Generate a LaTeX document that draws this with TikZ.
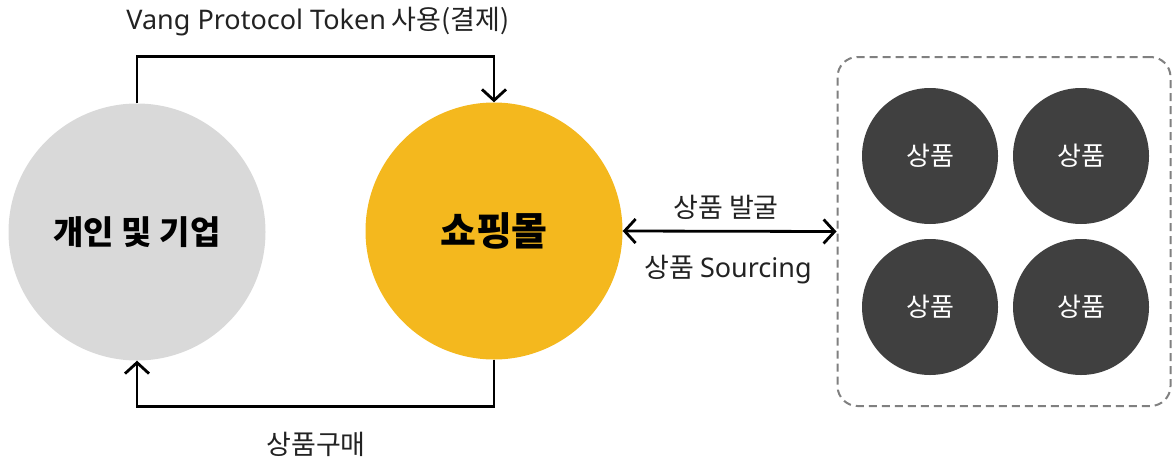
\documentclass[tikz,border=0pt]{standalone}
\usepackage{fontspec}
\setmainfont{Noto Sans CJK KR}
\newfontfamily\lat{Noto Sans}
\usetikzlibrary{arrows.meta,positioning,calc}
\definecolor{cgray}{HTML}{D9D9D9}
\definecolor{cyellow}{HTML}{F4B81E}
\definecolor{cdark}{HTML}{404040}
\definecolor{cbox}{HTML}{808080}
\definecolor{ctext}{HTML}{222222}
\tikzset{barb/.tip={Straight Barb[length=11pt,width=24pt,line width=2.8pt]}}
\begin{document}
\begin{tikzpicture}[x=1pt,y=-1pt,
  bigcircle/.style={circle,minimum size=257pt,inner sep=0pt,draw=none},
  itemcircle/.style={circle,minimum size=136pt,inner sep=0pt,fill=cdark,text=white,font=\fontsize{26}{28}\selectfont},
  conn/.style={line width=2.8pt,draw=black,line join=miter},
  lbl/.style={text=ctext,font=\fontsize{27}{30}\selectfont,inner sep=0pt},
  dashbox/.style={draw=cbox,line width=2pt,dash pattern=on 8pt off 5pt,rounded corners=20pt,minimum width=333pt,minimum height=349pt,inner sep=0pt}
]
\useasboundingbox (0,0) rectangle (1172,461);
\node[bigcircle,fill=cgray,font=\bfseries\fontsize{33}{38}\selectfont] (g) at (137,232) {개인 및 기업};
\node[bigcircle,fill=cyellow,font=\bfseries\fontsize{39}{44}\selectfont] (y) at (494,231) {쇼핑몰};
\node[dashbox] (box) at (1004,231.5) {};
\node[itemcircle] (p1) at (930,156) {상품};
\node[itemcircle] (p2) at (1081,156) {상품};
\node[itemcircle] (p3) at (930,307) {상품};
\node[itemcircle] (p4) at (1081,307) {상품};
\draw[conn,-barb] (g.north) -- ++(0,-47) -| (y.north);
\draw[conn,-barb] (y.south) -- ++(0,47) -| (g.south);
\draw[conn,barb-barb] (y.east) -- (box.west);
\node[lbl] (t1) at (318,22) {{\lat Vang Protocol Token} 사용(결제)};
\node[lbl] (t2) at (316,444) {상품구매};
\node[lbl] (t3) at (726,207) {상품 발굴};
\node[lbl] (t4) at (728,270) {상품 {\lat Sourcing}};
\end{tikzpicture}
\end{document}
